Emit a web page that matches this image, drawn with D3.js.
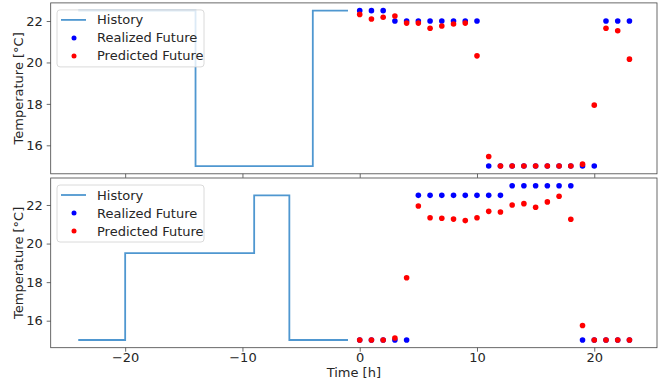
<!DOCTYPE html>
<html>
<head>
<meta charset="utf-8">
<script src="https://cdn.jsdelivr.net/npm/d3@7"></script>
<style>
  body { margin: 0; background: #fff; }
  svg { display: block; font-family: "DejaVu Sans", sans-serif; }
</style>
</head>
<body>
<svg id="chart" width="670" height="385"></svg>
<script>
// ---------- data ----------
const historyHours = d3.range(-24, 0);           // -24 .. -1
const futureHours = d3.range(0, 24);             // 0 .. 23

const historyTop = [22.5,22.5,22.5,22.5,22.5,22.5,22.5,22.5,22.5,22.5,
                    15,15,15,15,15,15,15,15,15,15,
                    22.5,22.5,22.5,22.5];
const realizedTop = [22.5,22.5,22.5,22,22,22,22,22,22,22,22,
                     15,15,15,15,15,15,15,15,15,15,
                     22,22,22];
const predictedTop = [22.32,22.1,22.18,22.24,21.9,21.9,21.65,21.76,21.86,21.9,20.32,
                      15.46,15.0,15.0,15.0,15.0,15.0,15.0,15.0,15.09,17.94,
                      21.65,21.53,20.16];

const historyBottom = [15,15,15,15,
                       19.5,19.5,19.5,19.5,19.5,19.5,19.5,19.5,19.5,19.5,19.5,
                       22.5,22.5,22.5,
                       15,15,15,15,15,15];
const realizedBottom = [15,15,15,15,15,
                        22.5,22.5,22.5,22.5,22.5,22.5,22.5,22.5,
                        23,23,23,23,23,23,
                        15,15,15,15,15];
const predictedBottom = [15,15,15,15.1,18.23,21.95,21.34,21.31,21.27,21.19,21.34,21.67,21.64,
                         22.0,22.07,21.88,22.16,22.45,21.26,15.75,15,15,15,15];

const xTicks = [-20, -10, 0, 10, 20];
const yTicks = [16, 18, 20, 22];
const legendLabels = ["History", "Realized Future", "Predicted Future"];
const yLabel = "Temperature [°C]";
const xLabel = "Time [h]";

// ---------- layout ----------
const svg = d3.select("#chart");
const left = 50.7, right = 657;
const panels = [
  { top: 2.9, bottom: 173.8, hist: historyTop, real: realizedTop, pred: predictedTop, showX: false },
  { top: 178, bottom: 347.7, hist: historyBottom, real: realizedBottom, pred: predictedBottom, showX: true }
];

function padded(lo, hi) { const m = (hi - lo) * 0.05; return [lo - m, hi + m]; }

const x = d3.scaleLinear()
  .domain(padded(d3.min(historyHours), d3.max(futureHours)))
  .range([left, right]);

const histColor = "#4f97d0";
const axisColor = "#444";
const textColor = "#262626";

panels.forEach(p => {
  const all = p.hist.concat(p.real, p.pred);
  const y = d3.scaleLinear().domain(padded(d3.min(all), d3.max(all))).range([p.bottom, p.top]);
  const g = svg.append("g");

  // history step line
  const line = d3.line().x((d, i) => x(historyHours[i])).y(d => y(d)).curve(d3.curveStepAfter);
  g.append("path").datum(p.hist).attr("d", line)
    .attr("fill", "none").attr("stroke", histColor).attr("stroke-width", 1.8);

  // realized
  g.selectAll(".real").data(p.real).enter().append("circle")
    .attr("cx", (d, i) => x(futureHours[i])).attr("cy", d => y(d)).attr("r", 2.8).attr("fill", "#0000ff");
  // predicted
  g.selectAll(".pred").data(p.pred).enter().append("circle")
    .attr("cx", (d, i) => x(futureHours[i])).attr("cy", d => y(d)).attr("r", 2.8).attr("fill", "#ff0000");

  // axes
  const ya = d3.axisLeft(y).tickValues(yTicks).tickSize(4).tickPadding(4).tickFormat(d3.format("d"));
  const yg = g.append("g").attr("transform", `translate(${left},0)`).call(ya);
  const xa = d3.axisBottom(x).tickValues(xTicks).tickSize(4).tickPadding(1.5)
    .tickFormat(p.showX ? (d => d < 0 ? "\u2212" + Math.abs(d) : d) : "");
  const xg = g.append("g").attr("transform", `translate(0,${p.bottom})`).call(xa);
  [yg, xg].forEach(a => {
    a.select(".domain").remove();
    a.selectAll("line").attr("stroke", axisColor).attr("stroke-width", 0.8);
    a.selectAll("text").attr("fill", textColor).style("font-size", "13px").style("font-family", "DejaVu Sans");
  });

  // frame
  g.append("rect").attr("x", left).attr("y", p.top).attr("width", right - left).attr("height", p.bottom - p.top)
    .attr("fill", "none").attr("stroke", axisColor).attr("stroke-width", 0.8);

  // y label
  g.append("text").attr("transform", `translate(18,${(p.top + p.bottom) / 2}) rotate(-90)`)
    .attr("text-anchor", "middle").attr("dominant-baseline", "central")
    .attr("fill", textColor).style("font-size", "13px").text(yLabel);

  // legend
  const lx = 57, ly = p.top + 7;
  const lg = g.append("g").attr("transform", `translate(${lx},${ly})`);
  lg.append("rect").attr("width", 147).attr("height", 57).attr("rx", 3)
    .attr("fill", "#fff").attr("fill-opacity", 0.8).attr("stroke", "#d0d0d0").attr("stroke-width", 0.8);
  legendLabels.forEach((lab, i) => {
    const cy = 10 + i * 18;
    if (i === 0) {
      lg.append("line").attr("x1", 4).attr("x2", 29).attr("y1", cy).attr("y2", cy)
        .attr("stroke", histColor).attr("stroke-width", 1.8);
    } else {
      lg.append("circle").attr("cx", 17).attr("cy", cy).attr("r", 2.5)
        .attr("fill", i === 1 ? "#0000ff" : "#ff0000");
    }
    lg.append("text").attr("x", 40).attr("y", cy).attr("dominant-baseline", "central")
      .attr("fill", textColor).style("font-size", "13px").text(lab);
  });
});

// x label
svg.append("text").attr("x", (left + right) / 2).attr("y", 377).attr("text-anchor", "middle")
  .attr("fill", textColor).style("font-size", "13px").text(xLabel);
</script>
</body>
</html>
